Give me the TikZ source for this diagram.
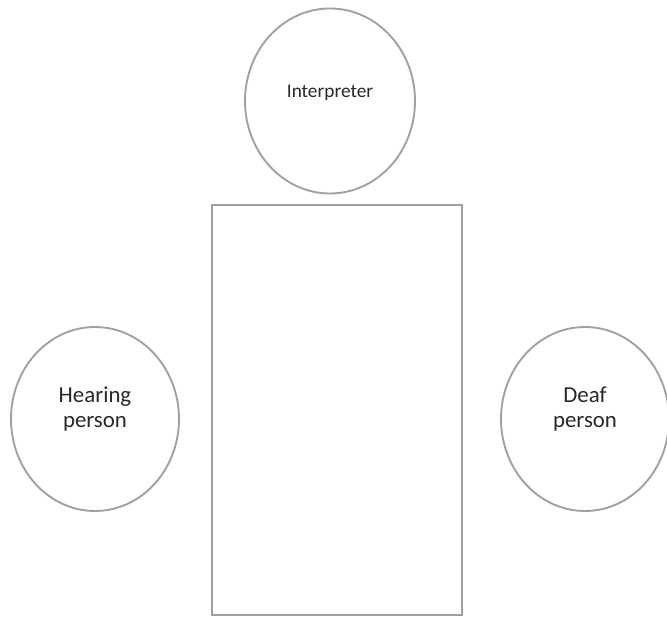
\documentclass[tikz,border=0pt]{standalone}
\usepackage{fontspec}
\setmainfont{Carlito}
\usetikzlibrary{shapes.geometric}
\definecolor{linegray}{RGB}{160,160,160}
\definecolor{textgray}{RGB}{40,40,40}

\begin{document}
\begin{tikzpicture}[
  person/.style={draw=linegray, line width=1.6pt, ellipse, inner sep=0pt,
    minimum width=5.04cm, minimum height=5.52cm},
  personlabel/.style={text=textgray, align=center, yshift=0.3cm,
    font=\fontsize{19.5}{22}\selectfont},
  tablebox/.style={draw=linegray, line width=1.6pt, inner sep=0pt}
]
  \useasboundingbox (0,0) rectangle (20.01,18.51);

  % Interpreter
  \node[person, minimum width=5.1cm, minimum height=5.55cm,
    label={[personlabel, yshift=-0.06cm, font=\fontsize{16.5}{19}\selectfont]center:Interpreter}]
    (interp) at (9.9,15.48) {};

  % Table
  \node[tablebox, minimum width=7.5cm, minimum height=12.3cm] (table) at (10.11,6.21) {};

  % Hearing person
  \node[person, label={[personlabel]center:Hearing\\person}] (hearing) at (2.85,5.94) {};

  % Deaf person
  \node[person, label={[personlabel]center:Deaf\\person}] (deaf) at (17.55,5.94) {};
\end{tikzpicture}
\end{document}
